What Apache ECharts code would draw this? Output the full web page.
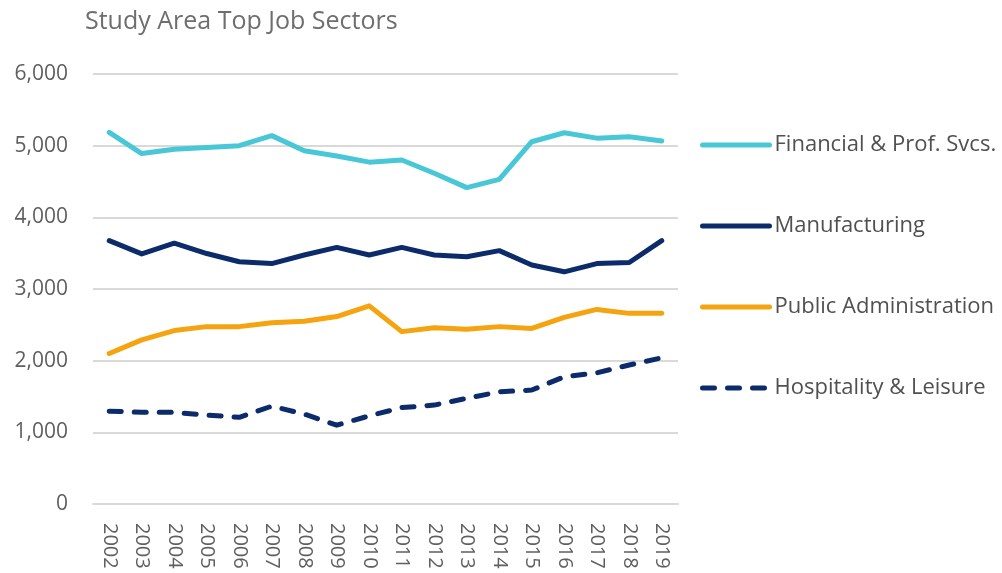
<!DOCTYPE html>
<html>
<head>
<meta charset="utf-8">
<script src="https://cdn.jsdelivr.net/npm/echarts@6/dist/echarts.min.js"></script>
<style>
  html, body { margin: 0; padding: 0; background: #fff; }
  #chart { width: 1002px; height: 573px; }
</style>
</head>
<body>
<div id="chart"></div>
<script>
// Employment by sector, 2002-2019
const years = ['2002','2003','2004','2005','2006','2007','2008','2009','2010',
               '2011','2012','2013','2014','2015','2016','2017','2018','2019'];

const financial = [5185, 4890, 4950, 4975, 5000, 5140, 4930, 4855, 4770,
                   4800, 4615, 4415, 4530, 5055, 5180, 5105, 5125, 5065];
const manufacturing = [3675, 3490, 3640, 3495, 3380, 3355, 3475, 3580, 3475,
                       3580, 3475, 3450, 3535, 3335, 3240, 3355, 3370, 3675];
const publicAdmin = [2100, 2290, 2420, 2475, 2475, 2530, 2550, 2615, 2765,
                     2405, 2460, 2440, 2475, 2450, 2605, 2715, 2660, 2660];
const hospitality = [1295, 1280, 1280, 1240, 1210, 1365, 1255, 1100, 1230,
                     1345, 1380, 1475, 1565, 1590, 1775, 1830, 1940, 2040];

const seriesNames = ['Financial & Prof. Svcs.', 'Manufacturing', 'Public Administration', 'Hospitality & Leisure'];
const yTicks = [0, 1000, 2000, 3000, 4000, 5000, 6000];

const FONT = '"Open Sans", "Noto Sans", sans-serif';

function lineSeries(name, data, color, type) {
  return {
    name: name,
    type: 'line',
    data: data,
    symbol: 'none',
    smooth: false,
    lineStyle: { color: color, width: 5, type: type || 'solid', cap: 'round', join: 'round' },
    itemStyle: { color: color }
  };
}

const chart = echarts.init(document.getElementById('chart'), null, { renderer: 'canvas' });
chart.setOption({
  backgroundColor: '#ffffff',
  animation: false,
  title: {
    text: 'Study Area Top Job Sectors',
    left: 80,
    top: 4,
    textStyle: { fontFamily: FONT, fontSize: 25, fontWeight: 'normal', color: '#6e6e6e' }
  },
  grid: { left: 93, right: 324, top: 74, bottom: 69, containLabel: false },
  xAxis: {
    type: 'category',
    data: years,
    boundaryGap: true,
    axisLine: { show: true, lineStyle: { color: '#d9d9d9', width: 2 } },
    axisTick: { show: false },
    axisLabel: {
      rotate: -90,
      margin: 19,
      fontFamily: FONT,
      fontSize: 20,
      color: '#5f5f5f'
    }
  },
  yAxis: {
    type: 'value',
    min: yTicks[0],
    max: yTicks[yTicks.length - 1],
    interval: 1000,
    axisLine: { show: false },
    axisTick: { show: false },
    splitLine: { lineStyle: { color: '#d9d9d9', width: 2 } },
    axisLabel: {
      margin: 25,
      fontFamily: FONT,
      fontSize: 21,
      color: '#5f5f5f',
      formatter: v => v.toLocaleString('en-US')
    }
  },
  legend: {
    orient: 'vertical',
    left: 695,
    top: 129,
    itemWidth: 67,
    itemHeight: 24,
    itemGap: 59,
    itemStyle: { opacity: 0 },
    lineStyle: { width: 5, cap: 'round' },
    textStyle: { fontFamily: FONT, fontSize: 22, color: '#505050', padding: [0, 0, 0, 0] },
    data: seriesNames
  },
  series: [
    lineSeries(seriesNames[0], financial, '#48c7d6'),
    lineSeries(seriesNames[1], manufacturing, '#0c2b6b'),
    lineSeries(seriesNames[2], publicAdmin, '#f5a30f'),
    lineSeries(seriesNames[3], hospitality, '#0c2b6b', [12, 13])
  ]
});
</script>
</body>
</html>
